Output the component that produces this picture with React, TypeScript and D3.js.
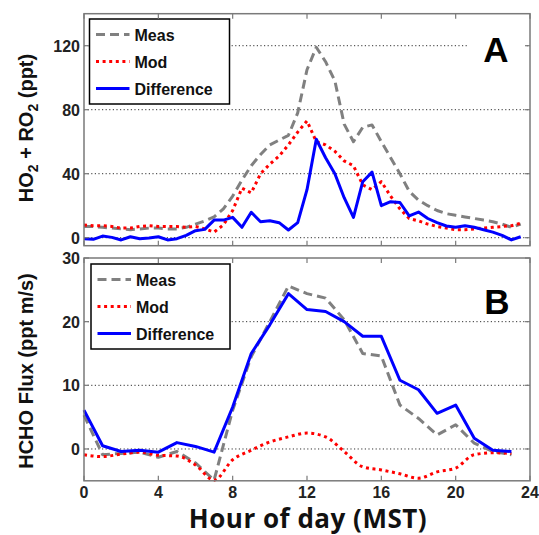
import React from "react";
import * as d3 from "d3";

// ---------- data ----------
const hoursA = [0, 0.5, 1, 1.5, 2, 2.5, 3, 3.5, 4, 4.5, 5, 5.5, 6, 6.5, 7, 7.5, 8, 8.5, 9, 9.5, 10, 10.5, 11, 11.5, 12, 12.5, 13, 13.5, 14, 14.5, 15, 15.5, 16, 16.5, 17, 17.5, 18, 18.5, 19, 19.5, 20, 20.5, 21, 21.5, 22, 22.5, 23, 23.5];
const measA = [7, 7, 6.5, 6, 5.5, 5, 5.5, 6, 6, 5.5, 5.5, 6.5, 8.5, 10.5, 13, 18, 26, 36, 45, 52, 58, 61, 64, 78, 105, 119, 110, 98, 71, 60, 69, 70.5, 60, 50, 40, 29, 23.5, 20, 17, 15, 14, 13, 12, 11, 10, 8.5, 6.5, 8.5];
const modA = [8, 7.5, 7.5, 7, 6, 6, 7, 7.5, 7, 7, 7, 6.5, 7, 5.5, 3.5, 8, 17, 31, 28, 40, 46, 51, 58, 66, 73, 60, 58, 54, 48, 45, 33, 30, 35, 26, 18, 12, 10.5, 8.5, 7, 6, 5, 5, 5.5, 6, 6.5, 7, 7.5, 9];
const diffA = [-0.6, -1, 1, 0.2, -1.4, 0.6, -0.6, -0.2, 0.6, -1.4, -0.6, 1.5, 4.4, 5.2, 11, 11, 12.7, 6.5, 15.9, 10, 10.6, 9.4, 4.8, 9.4, 30, 61.5, 50, 40, 25, 12.7, 35, 41, 20, 22.5, 22, 13.6, 16, 12, 9.4, 7.3, 6.5, 7.5, 6.5, 5, 3.5, 1.5, -1.4, 0.6];

const hoursB = [0, 1, 2, 3, 4, 5, 6, 7, 8, 9, 10, 11, 12, 13, 14, 15, 16, 17, 18, 19, 20, 21, 22, 23];
const measB = [5.3, -0.9, -0.7, -0.5, -1.3, -0.4, -2.2, -4.9, 6.1, 14.5, 20, 25.6, 24.4, 23.7, 20.3, 15, 14.6, 6.9, 4.8, 2.2, 3.8, 0.9, -0.4, -0.9];
const modB = [-0.9, -1.2, -0.8, -0.5, -1, -1.1, -2.5, -4.9, -1.7, -0.2, 1.1, 1.9, 2.5, 1.9, -0.4, -2.8, -3.3, -3.9, -4.6, -3.6, -3, -0.9, -0.6, -0.7];
const diffB = [6.1, 0.5, -0.4, -0.2, -0.5, 1, 0.4, -0.5, 6.6, 15, 19.5, 24.4, 21.9, 21.6, 20, 17.7, 17.7, 10.8, 9.3, 5.6, 6.9, 1.7, -0.2, -0.4];

const xTicks = [0, 4, 8, 12, 16, 20, 24];
const yTicksA = [0, 40, 80, 120];
const yTicksB = [0, 10, 20, 30];
const legendLabels = ["Meas", "Mod", "Difference"];

// ---------- styles ----------
const FONT = "'Liberation Sans', Arial, sans-serif";
const C_MEAS = "#808080";
const C_MOD = "#ff0000";
const C_DIFF = "#0000ff";
const AXIS = "#7a7a7a";

const seriesStyles = [
  { color: C_MEAS, dash: "9,5" },
  { color: C_MOD, dash: "3,3.6" },
  { color: C_DIFF, dash: undefined as string | undefined },
];

type PanelProps = {
  top: number;
  bottom: number;
  yDomain: [number, number];
  yTicks: number[];
  xs: number[];
  series: number[][];
  showXLabels: boolean;
  letter: string;
  legendBox: { x: number; y: number; w: number; h: number };
  letterBox: { x: number; y: number; w: number; h: number };
  smoothMod?: boolean;
};

const LEFT = 84;
const RIGHT = 530;

function Panel(p: PanelProps) {
  const x = d3.scaleLinear().domain([0, 24]).range([LEFT, RIGHT]);
  const y = d3.scaleLinear().domain(p.yDomain).range([p.bottom, p.top]);
  const lineGen = (vals: number[], curve: d3.CurveFactory) =>
    d3
      .line<number>()
      .x((_, i) => x(p.xs[i]))
      .y((v) => y(v))
      .curve(curve)(vals) || "";

  const lb = p.legendBox;
  return (
    <g>
      {/* grid lines */}
      {p.yTicks
        .filter((t) => t !== p.yDomain[1])
        .map((t) => (
          <line
            key={"g" + t}
            x1={LEFT}
            x2={RIGHT}
            y1={y(t)}
            y2={y(t)}
            stroke="#333"
            strokeWidth={1}
            strokeDasharray="1.2,2.4"
          />
        ))}
      {/* series */}
      {p.series.map((vals, i) => (
        <path
          key={"s" + i}
          d={lineGen(vals, i === 1 && p.smoothMod ? d3.curveMonotoneX : d3.curveLinear)}
          fill="none"
          stroke={seriesStyles[i].color}
          strokeWidth={3}
          strokeDasharray={seriesStyles[i].dash}
          strokeLinejoin="round"
        />
      ))}
      {/* letter box */}
      <rect x={p.letterBox.x} y={p.letterBox.y} width={p.letterBox.w} height={p.letterBox.h} fill="#fff" />
      <text
        x={p.letterBox.x + p.letterBox.w / 2}
        y={p.letterBox.y + p.letterBox.h - 3}
        textAnchor="middle"
        fontFamily={FONT}
        fontWeight="bold"
        fontSize={35}
        fill="#000"
      >
        {p.letter}
      </text>
      {/* legend */}
      <rect x={lb.x} y={lb.y} width={lb.w} height={lb.h} fill="#fff" stroke="#000" strokeWidth={1.5} />
      {legendLabels.map((lab, i) => {
        const cy = lb.y + 15.5 + i * 27;
        return (
          <g key={"l" + i}>
            <line
              x1={lb.x + 6.5}
              x2={lb.x + 40}
              y1={cy}
              y2={cy}
              stroke={seriesStyles[i].color}
              strokeWidth={3}
              strokeDasharray={seriesStyles[i].dash}
            />
            <text x={lb.x + 45} y={cy + 6} fontFamily={FONT} fontWeight="bold" fontSize={16} fill="#111">
              {lab}
            </text>
          </g>
        );
      })}
      {/* axes box */}
      <rect x={LEFT} y={p.top} width={RIGHT - LEFT} height={p.bottom - p.top} fill="none" stroke={AXIS} strokeWidth={1.5} />
      {xTicks.map((t) => (
        <g key={"xt" + t}>
          <line x1={x(t)} x2={x(t)} y1={p.bottom} y2={p.bottom - 5} stroke={AXIS} strokeWidth={1.2} />
          <line x1={x(t)} x2={x(t)} y1={p.top} y2={p.top + 5} stroke={AXIS} strokeWidth={1.2} />
          {p.showXLabels && (
            <text
              x={x(t)}
              y={p.bottom + 17}
              textAnchor="middle"
              fontFamily={FONT}
              fontWeight="bold"
              fontSize={16}
              fill="#222"
            >
              {t}
            </text>
          )}
        </g>
      ))}
      {p.yTicks.map((t) => (
        <g key={"yt" + t}>
          <line x1={LEFT} x2={LEFT + 5} y1={y(t)} y2={y(t)} stroke={AXIS} strokeWidth={1.2} />
          <line x1={RIGHT} x2={RIGHT - 5} y1={y(t)} y2={y(t)} stroke={AXIS} strokeWidth={1.2} />
          <text
            x={LEFT - 4}
            y={y(t) + 6}
            textAnchor="end"
            fontFamily={FONT}
            fontWeight="bold"
            fontSize={16}
            fill="#222"
          >
            {t}
          </text>
        </g>
      ))}
    </g>
  );
}

export default function App() {
  return (
    <svg
      width={539}
      height={535}
      style={{ position: "absolute", left: 0, top: 0, background: "#fff" }}
    >
      <rect x={0} y={0} width={539} height={535} fill="#fff" />
      <Panel
        top={13.7}
        bottom={245.7}
        yDomain={[-5, 140]}
        yTicks={yTicksA}
        xs={hoursA}
        series={[measA, modA, diffA]}
        showXLabels={false}
        letter="A"
        legendBox={{ x: 89.5, y: 19, w: 140, h: 85 }}
        letterBox={{ x: 467, y: 18, w: 58, h: 47 }}
      />
      <Panel
        top={258}
        bottom={480.8}
        yDomain={[-5, 30]}
        yTicks={yTicksB}
        xs={hoursB}
        series={[measB, modB, diffB]}
        showXLabels={true}
        letter="B"
        legendBox={{ x: 91, y: 264, w: 139, h: 85 }}
        letterBox={{ x: 472, y: 262, w: 50, h: 55 }}
        smoothMod={true}
      />
      {/* y axis titles */}
      <text
        transform="translate(33,128) rotate(-90)"
        textAnchor="middle"
        fontFamily={FONT}
        fontWeight="bold"
        fontSize={20}
        fill="#111"
      >
        HO<tspan fontSize={14} dy={5}>2</tspan>
        <tspan dy={-5}> + RO</tspan>
        <tspan fontSize={14} dy={5}>2</tspan>
        <tspan dy={-5}> (ppt)</tspan>
      </text>
      <text
        transform="translate(33,371) rotate(-90)"
        textAnchor="middle"
        fontFamily={FONT}
        fontWeight="bold"
        fontSize={20}
        fill="#111"
      >
        HCHO Flux (ppt m/s)
      </text>
      {/* x axis title */}
      <text
        x={308}
        y={528}
        textAnchor="middle"
        fontFamily="'Open Sans', sans-serif"
        fontWeight={700}
        fontSize={26}
        letterSpacing={0.5}
        fill="#111"
      >
        Hour of day (MST)
      </text>
    </svg>
  );
}
